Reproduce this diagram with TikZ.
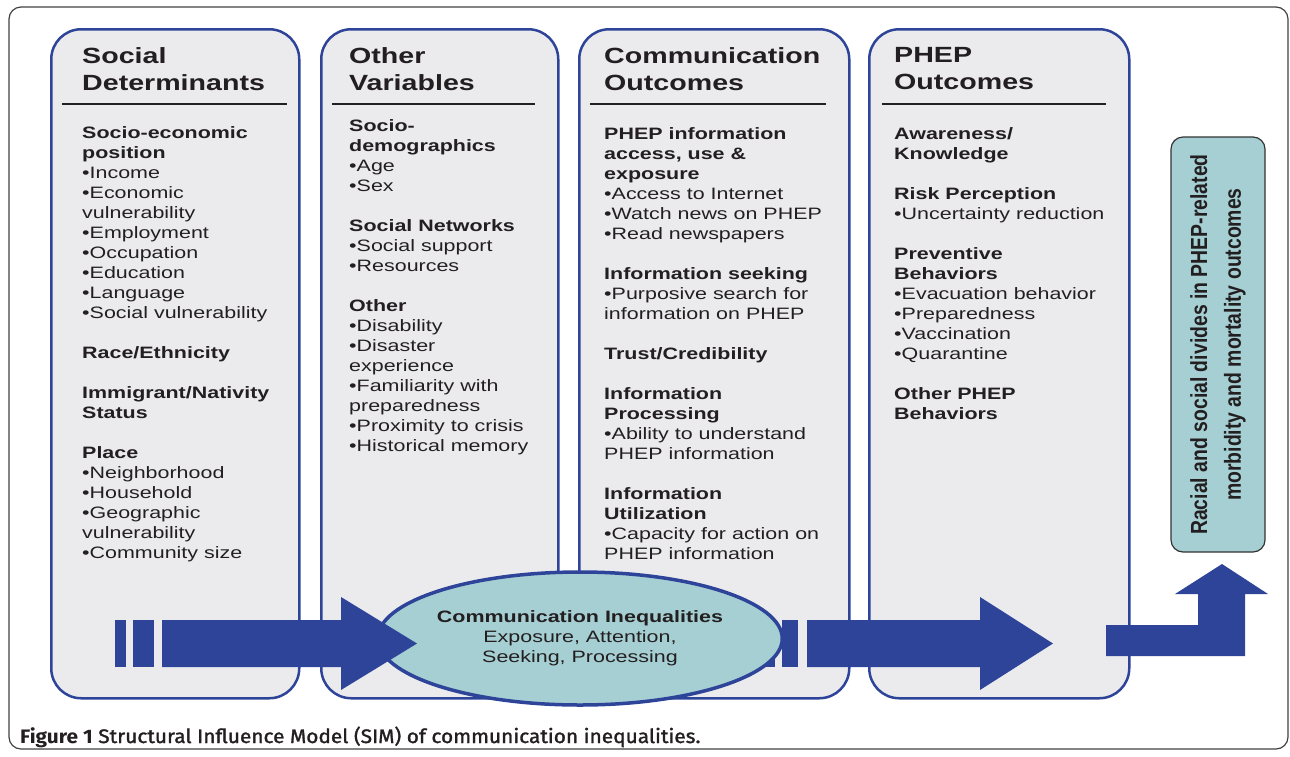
\documentclass[tikz,border=0pt]{standalone}
\usepackage{fontspec}
\setmainfont{Liberation Sans}[FakeStretch=1.3]
\newfontfamily\upfont{Liberation Sans}
\newfontfamily\capfont{Fira Sans}[FakeStretch=1.07]
\newfontface\capmed{Fira Sans}[FakeStretch=1.07, FakeBold=1.5]
\usepackage{xcolor}
\usepackage{tikz}
\usetikzlibrary{positioning, calc, shapes.geometric}

\definecolor{boxblue}{HTML}{2E4499}
\definecolor{boxgray}{HTML}{EBEBEE}
\definecolor{tealfill}{HTML}{A5CFD3}
\definecolor{inktext}{HTML}{231F20}

\newcommand{\colhead}[1]{\textbf{#1}}

\begin{document}
\begin{tikzpicture}[x=1pt, y=-1pt,
					ColBox/.style={rectangle, rounded corners=30pt, draw=boxblue, fill=boxgray, line width=2.5pt, anchor=north west, inner sep=0},
					TitleText/.style={anchor=north west, inner sep=0, align=left, text=inktext, font=\fontsize{22}{27}\selectfont\bfseries},
					BodyText/.style={anchor=north west, inner sep=0, align=left, text=inktext, font=\fontsize{16.5}{20}\selectfont},
					RuleLine/.style={line width=2.8pt, inktext},
					FatArrow/.style={fill=boxblue}]

				\useasboundingbox (0,0) rectangle (1290,756);

				% Frame
				\draw[rounded corners=12pt, line width=1.2pt, draw=black!75] (9,7) rectangle (1288,749);

				% Columns
				\node[ColBox, minimum width=248pt, minimum height=669pt] (SocialBox) at (50,28) {};
				\node[ColBox, minimum width=237pt, minimum height=669pt] (OtherBox) at (320,28) {};
				\node[ColBox, minimum width=270pt, minimum height=669pt] (CommBox) at (578,28) {};
				\node[ColBox, minimum width=260pt, minimum height=669pt] (PhepBox) at (868,28) {};

				% Titles
				\node[TitleText] (SocialTitle) at (82,47) {Social\\Determinants};
				\node[TitleText] (OtherTitle) at (349,47) {Other\\Variables};
				\node[TitleText] (CommTitle) at (604,47) {Communication\\Outcomes};
				\node[TitleText] (PhepTitle) at (894,47) {PHEP\\Outcomes};

				\draw[RuleLine] (62,104) -- (287,104);
				\draw[RuleLine] (332,104) -- (535,104);
				\draw[RuleLine] (590,104) -- (826,104);
				\draw[RuleLine] (882,104) -- (1106,104);

				% Lists
				\node[BodyText] (SocialList) at (82,126) {\colhead{Socio-economic}\\\colhead{position}\\•Income\\•Economic\\vulnerability\\•Employment\\•Occupation\\•Education\\•Language\\•Social vulnerability\\[20pt]\colhead{Race/Ethnicity}\\[20pt]\colhead{Immigrant/Nativity}\\\colhead{Status}\\[20pt]\colhead{Place}\\•Neighborhood\\•Household\\•Geographic\\vulnerability\\•Community size};
				\node[BodyText] (OtherList) at (349,119) {\colhead{Socio-}\\\colhead{demographics}\\•Age\\•Sex\\[20pt]\colhead{Social Networks}\\•Social support\\•Resources\\[20pt]\colhead{Other}\\•Disability\\•Disaster\\experience\\•Familiarity with\\preparedness\\•Proximity to crisis\\•Historical memory};
				\node[BodyText] (CommList) at (604,127) {\colhead{PHEP information}\\\colhead{access, use \&}\\\colhead{exposure}\\•Access to Internet\\•Watch news on PHEP\\•Read newspapers\\[20pt]\colhead{Information seeking}\\•Purposive search for\\information on PHEP\\[20pt]\colhead{Trust/Credibility}\\[20pt]\colhead{Information}\\\colhead{Processing}\\•Ability to understand\\PHEP information\\[20pt]\colhead{Information}\\\colhead{Utilization}\\•Capacity for action on\\PHEP information};
				\node[BodyText] (PhepList) at (894,127) {\colhead{Awareness/}\\\colhead{Knowledge}\\[20pt]\colhead{Risk Perception}\\•Uncertainty reduction\\[20pt]\colhead{Preventive}\\\colhead{Behaviors}\\•Evacuation behavior\\•Preparedness\\•Vaccination\\•Quarantine\\[20pt]\colhead{Other PHEP}\\\colhead{Behaviors}};

				% Outcome box
				\node[rectangle, rounded corners=12pt, draw=black!80, line width=1.2pt, fill=tealfill, minimum width=94pt, minimum height=415pt, inner sep=0] (DivideBox) at (1218,344.5) {};
				\node[rotate=90, yscale=1.2, align=center, text=inktext, inner sep=0, font=\upfont\fontsize{19.4}{28}\selectfont\bfseries] (DivideText) at (DivideBox.center) {Racial and social divides in PHEP-related\\morbidity and mortality outcomes};

				% Arrows
				\fill[FatArrow] (763,620) rectangle (775,667);
				\fill[FatArrow] (782,620) rectangle (798,667);
				\fill[FatArrow] (807,620) -- (980,620) -- (980,597) -- (1053,643.5) -- (980,690) -- (980,667) -- (807,667) -- cycle;

				\node[ellipse, draw=boxblue, line width=3.5pt, fill=tealfill, minimum width=370pt, minimum height=133pt, inner sep=0, align=center, text=inktext, font=\fontsize{16.5}{20}\selectfont] (InequalityNode) at (580,638.5) {\colhead{Communication Inequalities}\\Exposure, Attention,\\Seeking, Processing};

				\fill[FatArrow] (115,620) rectangle (126,667);
				\fill[FatArrow] (133,620) rectangle (154,667);
				\fill[FatArrow] (162,620) -- (341,620) -- (341,597) -- (417,643.5) -- (341,690) -- (341,667) -- (162,667) -- cycle;

				\fill[FatArrow] (1106,625) -- (1198,625) -- (1198,594) -- (1175,594) -- (1222,564) -- (1268,594) -- (1245,594) -- (1245,656) -- (1106,656) -- cycle;

				% Caption
				\node[anchor=base west, inner sep=0, text=inktext, font=\capfont\fontsize{19.5}{22}\selectfont] (FigCaption) at (20,743) {\textbf{Figure 1} {\capmed Structural Influence Model (SIM) of communication inequalities.}};
			\end{tikzpicture}
\end{document}
